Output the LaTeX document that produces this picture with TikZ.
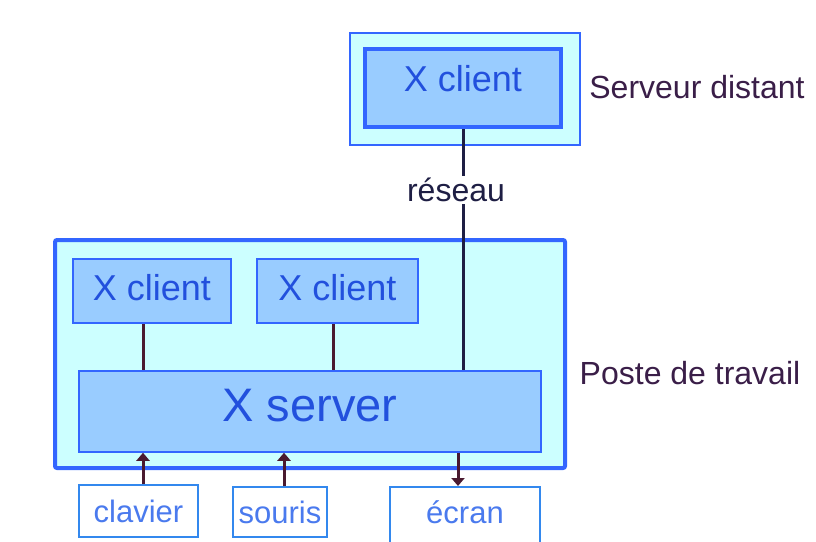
\documentclass[tikz,border=0pt]{standalone}
\usepackage{fontspec}
\setmainfont{Liberation Sans}
\usetikzlibrary{arrows.meta,calc}
\definecolor{outerfill}{HTML}{CCFFFF}
\definecolor{innerfill}{HTML}{99CCFF}
\definecolor{bord}{HTML}{3366FF}
\definecolor{bordlight}{HTML}{3388EE}
\definecolor{txtblue}{HTML}{2250DD}
\definecolor{txtlight}{HTML}{4A7AEE}
\definecolor{lbl}{HTML}{3A1E48}
\definecolor{wire}{HTML}{4A1A30}
\definecolor{netwire}{HTML}{1E1E44}
\tikzset{
  outerbox/.style={draw=bord, fill=outerfill, inner sep=0pt},
  clientbox/.style={draw=bord, fill=innerfill, inner sep=0pt, text=txtblue,
    font=\fontsize{36}{40}\selectfont},
  devbox/.style={draw=bordlight, fill=white, line width=2pt, inner sep=0pt,
    text=txtlight, font=\fontsize{31}{34}\selectfont},
  sidelabel/.style={text=lbl, font=\fontsize{32}{36}\selectfont, inner sep=0pt},
  wireline/.style={draw=wire, line width=3pt},
  arrowline/.style={draw=wire, line width=3pt, -{Triangle[width=13pt,length=8pt]}},
}
\begin{document}
\begin{tikzpicture}[x=1pt,y=-1pt]
\useasboundingbox (0,0) rectangle (816,541);
% top remote server
\node[outerbox, line width=2pt, minimum width=230pt, minimum height=112pt] (tout) at (465,89) {};
\node[clientbox, line width=4pt, minimum width=196pt, minimum height=78pt, text depth=20pt] (tin) at (463,88) {X client};
\node[sidelabel] (lsd) at (697,87) {Serveur distant};
% workstation
\node[outerbox, line width=4pt, rounded corners=2pt, minimum width=510pt, minimum height=228pt] (big) at (310,354) {};
\node[clientbox, line width=2pt, minimum width=158pt, minimum height=64pt, text depth=8pt] (c1) at (152,291) {X client};
\node[clientbox, line width=2pt, minimum width=161pt, minimum height=64pt, text depth=8pt] (c2) at (337.5,291) {X client};
\node[clientbox, line width=1.5pt, minimum width=462pt, minimum height=81pt, text depth=12pt,
  font=\fontsize{47}{52}\selectfont] (srv) at (310,411.5) {X server};
\node[sidelabel] (lpt) at (690,373) {Poste de travail};
% devices
\node[devbox, minimum width=119pt, minimum height=52pt] (clav) at (138.5,511) {clavier};
\node[devbox, minimum width=94pt, minimum height=50pt] (sour) at (280,512) {souris};
\node[devbox, minimum width=150pt, minimum height=56pt, text depth=5pt] (ecr) at (465,515) {écran};
% connectors
\draw[draw=netwire, line width=3pt] (tin.south) -- (tin.south |- srv.north);
\node[fill=white, text=netwire, font=\fontsize{32}{36}\selectfont, inner sep=2pt] (res) at (456,190) {réseau};
\draw[wireline] ([xshift=-9pt]c1.south) -- ([xshift=-9pt]c1.south |- srv.north);
\draw[wireline] ([xshift=-4.5pt]c2.south) -- ([xshift=-4.5pt]c2.south |- srv.north);
\draw[arrowline] ([xshift=4.5pt]clav.north) -- ([xshift=4.5pt]clav.north |- srv.south);
\draw[arrowline] ([xshift=4pt]sour.north) -- ([xshift=4pt]sour.north |- srv.south);
\draw[arrowline] ([xshift=-7pt]ecr.north |- srv.south) -- ([xshift=-7pt]ecr.north);
\end{tikzpicture}
\end{document}
